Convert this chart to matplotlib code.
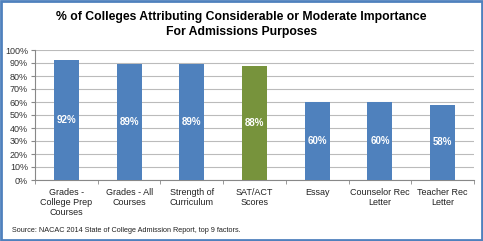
import matplotlib.pyplot as plt
from matplotlib.patches import Rectangle

categories = ['Grades -\nCollege Prep\nCourses', 'Grades - All\nCourses', 'Strength of\nCurriculum',
              'SAT/ACT\nScores', 'Essay', 'Counselor Rec\nLetter', 'Teacher Rec\nLetter']
values = [92, 89, 89, 88, 60, 60, 58]
colors = ['#4F81BD', '#4F81BD', '#4F81BD', '#77933C', '#4F81BD', '#4F81BD', '#4F81BD']

plt.rcParams['font.family'] = ['Liberation Sans', 'DejaVu Sans']

fig = plt.figure(figsize=(4.83, 2.41), dpi=100)
ax = fig.add_axes([35 / 483, 1 - 180 / 241, 439 / 483, 130 / 241])

x = range(len(values))
bars = ax.bar(x, values, width=0.4, color=colors, zorder=3)
for b, v in zip(bars, values):
    ax.text(b.get_x() + b.get_width() / 2, v / 2, f'{v}%', ha='center', va='center',
            color='white', fontsize=7, fontweight='bold', zorder=4)

ax.set_xlim(-0.5, len(values) - 0.5)
ax.set_ylim(0, 100)
ax.set_yticks(range(0, 101, 10))
ax.set_yticklabels([f'{t}%' for t in range(0, 101, 10)], fontsize=6.5, color='#333333')
ax.yaxis.grid(True, color='#BBBBBB', linewidth=0.8, zorder=0)
ax.set_xticks(list(x))
ax.set_xticklabels(categories, fontsize=6.5, color='#222222', linespacing=1.15)
ax.set_xticks([i - 0.5 for i in range(len(values) + 1)], minor=True)
ax.tick_params(axis='x', which='major', length=0, pad=6)
ax.tick_params(axis='x', which='minor', length=3, color='#888888')
ax.tick_params(axis='y', length=3, color='#888888', pad=2)
for s in ['top', 'right']:
    ax.spines[s].set_visible(False)
for s in ['left', 'bottom']:
    ax.spines[s].set_color('#888888')
    ax.spines[s].set_linewidth(0.8)

fig.text(0.5, 1 - 24.5 / 241, '% of Colleges Attributing Considerable or Moderate Importance\nFor Admissions Purposes',
         ha='center', va='center', fontsize=8.8, fontweight='bold', linespacing=1.3)
fig.text(12 / 483, 1 - 231 / 241, 'Source: NACAC 2014 State of College Admission Report, top 9 factors.',
         ha='left', va='center', fontsize=5.2, color='#222222')

fig.patches.append(Rectangle((0.002, 0.004), 0.996, 0.992, transform=fig.transFigure,
                             fill=False, edgecolor='#4F81BD', linewidth=2))

fig.savefig('out.png', dpi=100)
